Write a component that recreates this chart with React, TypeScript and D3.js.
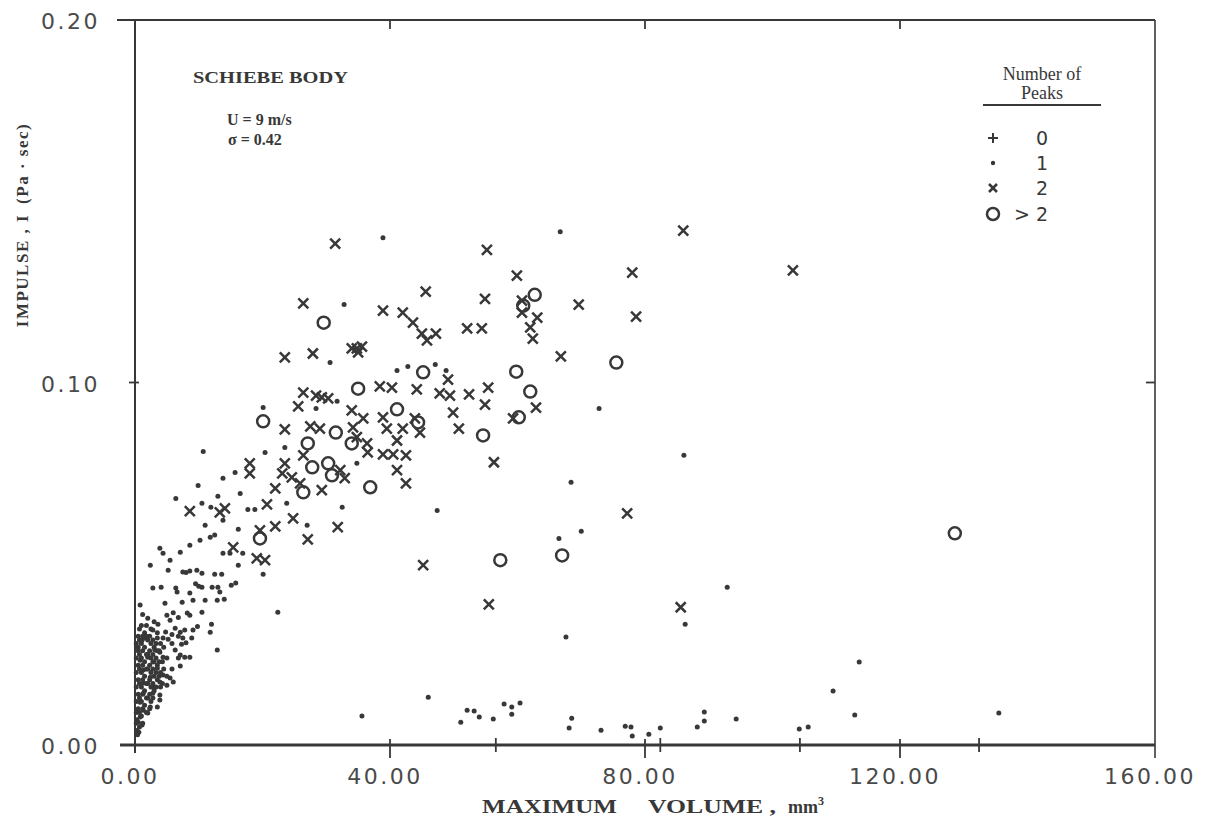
import React from 'react';
import * as d3 from 'd3';

const W = 1209;
const H = 834;

// axes
const xDomain: [number, number] = [0, 160];
const yDomain: [number, number] = [0, 0.2];
const xTickValues = [0, 40, 80, 120, 160];
const xTickLabels = ['0.00', '40.00', '80.00', '120.00', '160.00'];
const yTickValues = [0, 0.1, 0.2];
const yTickLabels = ['0.00', '0.10', '0.20'];
const xCrossTicks = [56.6, 82.4, 104.3, 132.4];

// number of peaks = 0 (none visible in the data)
const peaks0: [number, number][] = [];

// number of peaks = 1 (dots)
const peaks1: [number, number][] = [
  [38.9, 0.1399], [66.7, 0.1416], [32.8, 0.1215], [30.6, 0.1055], [41.1, 0.1033], [42.8, 0.1044],
  [47.1, 0.105], [48.8, 0.1033], [31.7, 0.0948], [20.1, 0.0931], [28.4, 0.0928], [23.5, 0.0821],
  [20.4, 0.0807], [10.7, 0.081], [34.8, 0.0777], [15.7, 0.0752], [13.8, 0.0736], [9.9, 0.0716],
  [16.5, 0.0694], [6.4, 0.068], [10.5, 0.0667], [11.9, 0.0656], [13.0, 0.0686], [17.7, 0.065],
  [18.8, 0.065], [23.8, 0.0667], [32.5, 0.0656], [27.0, 0.0606], [13.8, 0.062], [16.2, 0.0595],
  [3.9, 0.0543], [72.8, 0.0928], [86.1, 0.0799], [68.4, 0.0725], [47.4, 0.0647], [70.0, 0.059],
  [66.5, 0.057], [92.9, 0.0435], [86.3, 0.0333], [67.6, 0.0298], [113.6, 0.0229], [109.5, 0.0149],
  [46.0, 0.0132], [35.6, 0.008], [22.4, 0.0366], [12.9, 0.0262], [11.8, 0.0311], [20.1, 0.0471],
  [16.2, 0.0496],
  [52.1, 0.0096], [53.2, 0.0094], [54.0, 0.0077], [51.1, 0.0063], [56.2, 0.0072], [57.9, 0.0113],
  [59.1, 0.0105], [60.4, 0.0116], [59.1, 0.0085], [68.5, 0.0074], [68.1, 0.0047], [73.1, 0.0041],
  [76.9, 0.0052], [77.8, 0.005], [78.0, 0.0025], [80.6, 0.003], [82.4, 0.0047], [88.2, 0.005],
  [89.3, 0.0091], [89.3, 0.0066], [94.3, 0.0072], [104.2, 0.0044], [105.6, 0.005], [112.9, 0.0083],
  [135.5, 0.0088],
  [4.4, 0.0529], [7.1, 0.0532], [13.8, 0.0529], [14.9, 0.0529], [16.9, 0.0529], [5.2, 0.0482],
  [7.5, 0.0477], [9.7, 0.0482], [10.5, 0.0474], [12.5, 0.0471], [13.6, 0.0471], [2.8, 0.0433],
  [4.1, 0.0435], [6.4, 0.0433], [6.6, 0.0422], [10.5, 0.0435], [12.1, 0.0435], [13.0, 0.0435],
  [13.3, 0.0422], [15.1, 0.0441], [8.6, 0.0419], [9.1, 0.0399], [11.0, 0.0399], [12.9, 0.0399],
  [7.4, 0.0394], [4.7, 0.0391], [0.8, 0.0386], [10.5, 0.0366], [8.2, 0.0364], [8.6, 0.0358],
  [5.0, 0.0358], [5.5, 0.0344], [6.3, 0.0322], [7.1, 0.0311], [7.8, 0.0317], [9.1, 0.0317],
  [3.6, 0.0333], [2.8, 0.0317], [3.5, 0.0295], [4.4, 0.0295], [5.2, 0.0292], [7.5, 0.0295],
  [8.9, 0.0295], [1.1, 0.0289], [1.6, 0.0295], [0.5, 0.027], [3.1, 0.0262], [3.9, 0.0256],
  [4.4, 0.0242], [6.3, 0.0262], [7.1, 0.0248], [7.8, 0.0242], [8.6, 0.0242], [2.0, 0.0242],
  [0.8, 0.0234], [2.8, 0.0229], [7.1, 0.0218], [1.3, 0.0207], [3.5, 0.0212], [2.4, 0.0187],
  [4.4, 0.0193], [5.5, 0.0185], [6.0, 0.0174], [3.9, 0.0174], [1.3, 0.0171], [2.8, 0.016],
  [5.0, 0.0165], [1.3, 0.0143], [2.8, 0.0143], [3.9, 0.0138], [3.9, 0.0124], [3.5, 0.0105],
  [0.8, 0.0118], [1.3, 0.0096], [0.8, 0.0077], [1.1, 0.0055], [0.5, 0.0063], [2.4, 0.0105],
  [2.0, 0.0088],
  [0.5, 0.010], [0.5, 0.014], [0.5, 0.018], [0.5, 0.022], [0.5, 0.026], [0.5, 0.030],
  [1.0, 0.008], [1.0, 0.012], [1.0, 0.016], [1.0, 0.020], [1.0, 0.024], [1.0, 0.028], [1.0, 0.033],
  [1.5, 0.011], [1.5, 0.015], [1.5, 0.019], [1.5, 0.023], [1.5, 0.027], [1.5, 0.031],
  [2.0, 0.013], [2.0, 0.017], [2.0, 0.021], [2.0, 0.025], [2.0, 0.029], [2.0, 0.035],
  [2.5, 0.012], [2.5, 0.016], [2.5, 0.020], [2.5, 0.024], [2.5, 0.028], [2.5, 0.032],
  [3.0, 0.015], [3.0, 0.019], [3.0, 0.023], [3.0, 0.027], [3.0, 0.034],
  [3.5, 0.018], [3.5, 0.022], [3.5, 0.026], [3.5, 0.031],
  [4.0, 0.016], [4.0, 0.020], [4.0, 0.028], [4.5, 0.021], [4.5, 0.027], [5.0, 0.019], [5.0, 0.024],
  [0.3, 0.004], [0.3, 0.007],
  [8.6, 0.0551], [10.2, 0.0565], [11.8, 0.0573], [12.5, 0.0579], [11.0, 0.0606], [5.5, 0.051],
  [2.4, 0.0496],
  [0.2, 0.006], [0.2, 0.009], [0.2, 0.012], [0.2, 0.016], [0.2, 0.020], [0.2, 0.024], [0.2, 0.028],
  [0.7, 0.005], [0.7, 0.009], [0.7, 0.013], [0.7, 0.017], [0.7, 0.021], [0.7, 0.025], [0.7, 0.029],
  [0.7, 0.032], [1.2, 0.006], [1.2, 0.010], [1.2, 0.014], [1.2, 0.018], [1.2, 0.022], [1.2, 0.026],
  [1.2, 0.030], [1.2, 0.036], [1.8, 0.009], [1.8, 0.013], [1.8, 0.017], [1.8, 0.021], [1.8, 0.025],
  [1.8, 0.030], [1.8, 0.033], [2.3, 0.010], [2.3, 0.014], [2.3, 0.018], [2.3, 0.022], [2.3, 0.026],
  [2.3, 0.030], [2.8, 0.013], [2.8, 0.017], [2.8, 0.021], [2.8, 0.025], [2.8, 0.029], [3.3, 0.016],
  [3.3, 0.020], [3.3, 0.024], [3.3, 0.028], [3.8, 0.019], [3.8, 0.023], [3.8, 0.026], [4.3, 0.017],
  [4.3, 0.023], [5.8, 0.021], [5.8, 0.028], [6.8, 0.024], [6.8, 0.030], [0.4, 0.0028], [0.6, 0.0035],
  [9.5, 0.0445], [10.0, 0.0438], [14.0, 0.0402], [8.0, 0.0476], [8.6, 0.048], [15.8, 0.0447],
  [6.0, 0.0365], [6.8, 0.0352], [9.8, 0.0327], [12.0, 0.0333], [7.3, 0.0278], [8.0, 0.0282],
  [4.8, 0.0312], [5.8, 0.0305],
];

// number of peaks = 2 (crosses)
const peaks2: [number, number][] = [
  [31.4, 0.1383], [86.0, 0.1419], [55.2, 0.1366], [59.9, 0.1295], [78.0, 0.1303], [103.2, 0.1309],
  [45.6, 0.1251], [54.9, 0.1231], [69.6, 0.1215], [78.6, 0.1182], [26.4, 0.1218], [38.9, 0.1198],
  [42.0, 0.1193], [43.6, 0.1165], [45.0, 0.1135], [45.8, 0.1116], [47.2, 0.1135], [52.1, 0.1149],
  [54.4, 0.1149], [60.7, 0.1226], [60.7, 0.1193], [63.1, 0.1179], [62.0, 0.1152], [62.4, 0.1121],
  [66.8, 0.1072], [23.5, 0.1069], [27.9, 0.108], [34.0, 0.1094], [34.8, 0.1094], [35.6, 0.1099],
  [35.0, 0.1083], [38.4, 0.0989], [40.3, 0.0986], [44.2, 0.0981], [26.4, 0.0972], [29.3, 0.0959],
  [28.4, 0.0964], [30.3, 0.0956], [25.6, 0.0934], [34.0, 0.0923], [35.8, 0.0901], [23.5, 0.0871],
  [27.5, 0.0879], [29.0, 0.0873], [38.9, 0.0904], [43.9, 0.0901], [39.5, 0.0873], [42.0, 0.0873],
  [44.7, 0.0862], [41.1, 0.084], [34.2, 0.0876], [34.8, 0.0849], [36.4, 0.0832], [36.5, 0.0807],
  [38.9, 0.0802], [40.5, 0.0802], [42.5, 0.0799], [41.1, 0.0758], [42.5, 0.0722], [26.4, 0.0799],
  [23.5, 0.0777], [23.1, 0.0749], [24.6, 0.0738], [25.9, 0.0722], [32.2, 0.0758], [32.9, 0.0736],
  [18.0, 0.0777], [18.0, 0.0749], [22.0, 0.0708], [29.3, 0.0703], [8.6, 0.0645], [14.1, 0.0653],
  [13.3, 0.0642], [20.7, 0.0664], [24.8, 0.0625], [31.8, 0.0601], [27.1, 0.0567], [19.6, 0.0592],
  [22.0, 0.0603], [15.4, 0.0545], [19.1, 0.0515], [20.4, 0.051], [45.2, 0.0496], [49.1, 0.1008],
  [47.8, 0.097], [49.4, 0.0964], [52.4, 0.0967], [55.4, 0.0986], [54.9, 0.0939], [49.9, 0.0917],
  [50.8, 0.0873], [62.9, 0.0931], [59.3, 0.0901], [56.3, 0.078], [77.2, 0.0639], [55.5, 0.0388],
  [85.6, 0.038],
];

// number of peaks > 2 (circles)
const peaksMore: [number, number][] = [
  [62.7, 0.1242], [60.9, 0.1212], [29.6, 0.1165], [75.5, 0.1055], [45.2, 0.1028], [59.8, 0.103],
  [35.0, 0.0983], [62.0, 0.0975], [41.1, 0.0926], [60.2, 0.0904], [44.4, 0.089], [20.1, 0.0893],
  [54.6, 0.0854], [31.5, 0.0862], [34.0, 0.0832], [27.1, 0.0832], [27.8, 0.0766], [30.3, 0.0777],
  [30.9, 0.0744], [36.9, 0.0711], [26.4, 0.0697], [19.6, 0.057], [57.3, 0.051], [67.0, 0.0523],
  [128.6, 0.0584],
];

const legendLabels = ['0', '1', '2', '> 2'];

const INK = '#383838';

function Cross({ x, y, s = 5 }: { x: number; y: number; s?: number }) {
  return (
    <path
      d={`M${x - s},${y - s}L${x + s},${y + s}M${x - s},${y + s}L${x + s},${y - s}`}
      stroke={INK}
      strokeWidth={2.5}
      fill="none"
    />
  );
}

function Plus({ x, y, s = 5 }: { x: number; y: number; s?: number }) {
  return (
    <path d={`M${x - s},${y}L${x + s},${y}M${x},${y - s}L${x},${y + s}`} stroke={INK} strokeWidth={2} fill="none" />
  );
}

export default function App() {
  const x = d3.scaleLinear().domain(xDomain).range([135, 1155]);
  const y = d3.scaleLinear().domain(yDomain).range([745, 20]);

  const tickFont = { fontFamily: '"DejaVu Sans", sans-serif', fontSize: 22, fill: '#4a4a4a', letterSpacing: 2.5 } as const;
  const serifBold = { fontFamily: '"Liberation Serif", "Times New Roman", serif', fontWeight: 700, fill: INK } as const;

  const legendX = 993;
  const legendRowY = [138, 163, 188, 214];

  return (
    <div style={{ position: 'absolute', left: 0, top: 0, width: W, height: H, background: '#fff' }}>
      <svg width={W} height={H} viewBox={`0 0 ${W} ${H}`} style={{ display: 'block', background: '#fff' }}>
        {/* frame */}
        <line x1={117} x2={x(160)} y1={y(0.2)} y2={y(0.2)} stroke={INK} strokeWidth={2} />
        <line x1={120} x2={x(160)} y1={y(0)} y2={y(0)} stroke={INK} strokeWidth={3} />
        <line x1={x(0)} x2={x(0)} y1={y(0.2)} y2={y(0) + 8} stroke={INK} strokeWidth={2} />
        <line x1={x(160)} x2={x(160)} y1={y(0.2)} y2={y(0) + 13} stroke={INK} strokeWidth={1.6} />

        {/* x ticks */}
        {xTickValues.slice(1, 4).map((v) => (
          <line key={'xb' + v} x1={x(v)} x2={x(v)} y1={y(0) - 6} y2={y(0) + 13} stroke={INK} strokeWidth={1.8} />
        ))}
        {xTickValues.slice(1, 4).map((v) => (
          <line key={'xt' + v} x1={x(v)} x2={x(v)} y1={y(0.2)} y2={y(0.2) + 9} stroke={INK} strokeWidth={1.8} />
        ))}
        {xCrossTicks.map((v) => (
          <line key={'xc' + v} x1={x(v)} x2={x(v)} y1={y(0) - 7} y2={y(0) + 7} stroke={INK} strokeWidth={1.8} />
        ))}
        {/* y ticks */}
        <line x1={x(0) - 6} x2={x(0) + 4} y1={y(0.1)} y2={y(0.1)} stroke={INK} strokeWidth={1.8} />
        <line x1={x(160) - 9} x2={x(160)} y1={y(0.1)} y2={y(0.1)} stroke={INK} strokeWidth={1.8} />

        {/* tick labels */}
        {xTickValues.map((v, i) => (
          <text key={'xl' + v} x={x(v) - 5} y={784} textAnchor="middle" {...tickFont}>
            {xTickLabels[i]}
          </text>
        ))}
        {yTickValues.map((v, i) => (
          <text key={'yl' + v} x={100} y={y(v) + 9} textAnchor="end" {...tickFont}>
            {yTickLabels[i]}
          </text>
        ))}

        {/* axis titles */}
        <text x={482} y={813} {...serifBold} fontSize={18} textLength={135} lengthAdjust="spacingAndGlyphs">MAXIMUM</text>
        <text x={648} y={813} {...serifBold} fontSize={18} textLength={128} lengthAdjust="spacingAndGlyphs">VOLUME ,</text>
        <text x={788} y={813} {...serifBold} fontSize={18}>
          mm<tspan dy={-8} fontSize={12}>3</tspan>
        </text>
        <text
          transform={`translate(28, 225) rotate(-90)`}
          textAnchor="middle"
          {...serifBold}
          fontSize={17}
          letterSpacing={1.5}
        >
          IMPULSE , I{'\u2002'}(Pa · sec)
        </text>

        {/* annotations */}
        <text x={193} y={83} {...serifBold} fontSize={17} textLength={155} lengthAdjust="spacingAndGlyphs">SCHIEBE BODY</text>
        <text x={227} y={125} {...serifBold} fontSize={16}>U = 9 m/s</text>
        <text x={228} y={145} {...serifBold} fontSize={16}>σ = 0.42</text>

        {/* legend */}
        <text x={1042} y={80} textAnchor="middle" fontFamily='"Liberation Serif", serif' fontSize={18} fill={INK}>Number of</text>
        <text x={1042} y={99} textAnchor="middle" fontFamily='"Liberation Serif", serif' fontSize={18} fill={INK}>Peaks</text>
        <line x1={983} x2={1101} y1={105} y2={105} stroke={INK} strokeWidth={2} />
        <Plus x={legendX} y={legendRowY[0]} />
        <circle cx={legendX} cy={legendRowY[1]} r={2.2} fill={INK} />
        <Cross x={legendX} y={legendRowY[2]} s={4} />
        <circle cx={legendX} cy={legendRowY[3]} r={6} fill="none" stroke={INK} strokeWidth={2.5} />
        {legendLabels.map((t, i) => (
          <text
            key={'lg' + i}
            x={1048}
            y={legendRowY[i] + 7}
            textAnchor="end"
            fontFamily='"DejaVu Sans", sans-serif'
            fontSize={19}
            fill={INK}
          >
            {t}
          </text>
        ))}

        {/* data */}
        <g>
          {peaks1.map((d, i) => (
            <circle key={'p1' + i} cx={x(d[0])} cy={y(d[1])} r={2.5} fill={INK} />
          ))}
          {peaks0.map((d, i) => (
            <Plus key={'p0' + i} x={x(d[0])} y={y(d[1])} />
          ))}
          {peaks2.map((d, i) => (
            <Cross key={'p2' + i} x={x(d[0])} y={y(d[1])} s={5} />
          ))}
          {peaksMore.map((d, i) => (
            <circle key={'pm' + i} cx={x(d[0])} cy={y(d[1])} r={6} fill="none" stroke={INK} strokeWidth={2.5} />
          ))}
        </g>
      </svg>
    </div>
  );
}
